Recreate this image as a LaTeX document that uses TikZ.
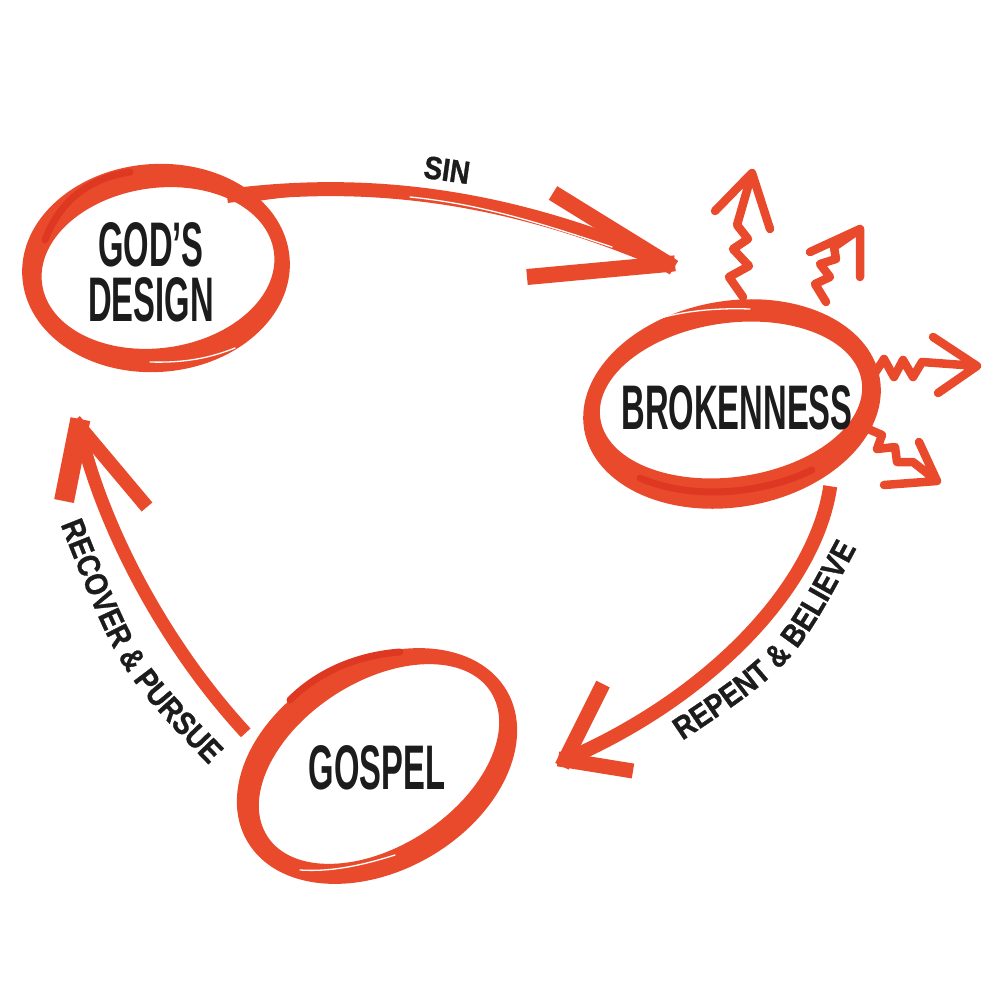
\documentclass[tikz,border=0pt]{standalone}
\usepackage{fontspec}
\newfontfamily\mainfam[FakeStretch=0.52]{Liberation Sans Bold}
\newfontfamily\labfam[FakeStretch=0.86,FakeBold=1]{Liberation Sans Bold}
\usetikzlibrary{shapes.geometric,decorations.text}
\definecolor{mk}{RGB}{234,74,44}
\definecolor{mkd}{RGB}{222,56,34}
\definecolor{ink}{RGB}{28,28,28}
\newcommand\labsty{\labfam\fontsize{32}{32}\selectfont\color{ink}}
\tikzset{
  shaft/.style={draw=mk, line width=14pt, line cap=butt},
  barb/.style={draw=mk, line width=16pt, line cap=butt, shorten <=-7pt},
  zig/.style={draw=mk, line width=8.5pt, line cap=round, line join=round},
  band/.style={fill=mk, even odd rule},
  over/.style={draw=mkd, line width=7pt, line cap=round},
  streak/.style={draw=white, line width=1.3pt, line cap=round},
  main/.style={ellipse, inner sep=0pt, font=\mainfam\fontsize{63}{55}\selectfont, align=center, text=ink},
  lab/.style={font=\labsty, text=ink},
}
\begin{document}
\begin{tikzpicture}[x=1pt,y=-1pt]
\useasboundingbox[fill=white] (0,0) rectangle (1000,1000);

% ---- ellipse bands ----
\fill[band] (156,268) ellipse [x radius=134, y radius=104, rotate=4]
            (158,268) ellipse [x radius=117, y radius=80, rotate=8];
\fill[band] (732,404) ellipse [x radius=150, y radius=103, rotate=10]
            (731,400) ellipse [x radius=132, y radius=77, rotate=8];
\fill[band] (377,766) ellipse [x radius=150, y radius=105, rotate=30]
            (379,764) ellipse [x radius=133, y radius=82, rotate=33];

% ---- nodes ----
\node[main, minimum width=252, minimum height=190] (gd) at (151,272) {GOD’S\\DESIGN};
\node[main, minimum width=290, minimum height=190] (br) at (737,408) {BROKENNESS};
\node[main, minimum width=280, minimum height=200] (gs) at (377,768) {GOSPEL};

% ---- darker overlaps ----
\draw[over] (45,240) .. controls (60,200) and (90,178) .. (130,172);
\draw[over] (640,478) .. controls (690,500) and (760,495) .. (812,470);
\draw[over] (290,700) .. controls (320,670) and (360,655) .. (400,652);

% ---- SIN ----
\coordinate (sinTip) at (668,264);
\draw[shaft] (gd.45) .. controls (380,176) and (520,200) .. (sinTip);
\draw[draw=mk, line width=9pt, line cap=round] (242,199) .. controls (300,189) and (350,187) .. (400,191);
\draw[barb] (sinTip) -- ++(-115,-71);
\draw[barb] (sinTip) -- ++(-141,13);
\node[lab, rotate=-8] (sin) at (447,170) {SIN};

% ---- REPENT & BELIEVE ----
\coordinate (rbTip) at (565,760);
\draw[shaft] (br.-40) .. controls (815,590) and (705,700) .. (rbTip);
\draw[barb, line width=15pt] (rbTip) -- ++(38,-76);
\draw[barb, line width=15pt] (rbTip) -- ++(68,11);
\path[decorate, decoration={text along path, text align=center,
  text={|\labsty|REPENT {\&} BELIEVE}}]
  (673,747) .. controls (794,666) .. (862,538);

% ---- RECOVER & PURSUE ----
\coordinate (rpTip) at (79,426);
\draw[shaft, line width=13pt] (gs.165) .. controls (160,640) and (100,520) .. (rpTip);
\draw[barb, line width=20pt] (rpTip) -- ++(-15,75);
\draw[barb, line width=14pt] (rpTip) -- ++(68,81);
\path[decorate, decoration={text along path, text align=center,
  text={|\labsty|RECOVER {\&} PURSUE}}]
  (58,518) .. controls (119,672) .. (214,770);

% ---- zigzag bursts ----
\draw[zig] (743,297) -- (729,277) -- (749,266) -- (733,249) -- (748,239) -- (737,225) -- (752,173) -- (715,211)
           (752,173) -- (770,229);
\draw[zig] (826,302) -- (815,284) -- (830,277) -- (820,264) -- (836,259) -- (834,247) -- (860,229) -- (810,252)
           (860,229) -- (860,277);
\draw[zig] (875,373) -- (884,359) -- (894,377) -- (903,360) -- (913,377) -- (922,362) -- (977,366) -- (933,337)
           (977,366) -- (938,393);
\draw[zig] (866,428) -- (882,435) -- (877,449) -- (895,447) -- (897,462) -- (913,462) -- (937,481) -- (919,442)
           (937,481) -- (884,485);

% ---- marker streaks ----
\draw[streak] (410,197) .. controls (480,204) and (540,223) .. (612,247);
\draw[streak] (150,362) .. controls (185,363) and (210,358) .. (235,348);
\draw[streak] (660,318) .. controls (690,310) and (720,308) .. (750,309);
\draw[streak] (300,870) .. controls (330,872) and (360,866) .. (395,855);
\end{tikzpicture}
\end{document}
